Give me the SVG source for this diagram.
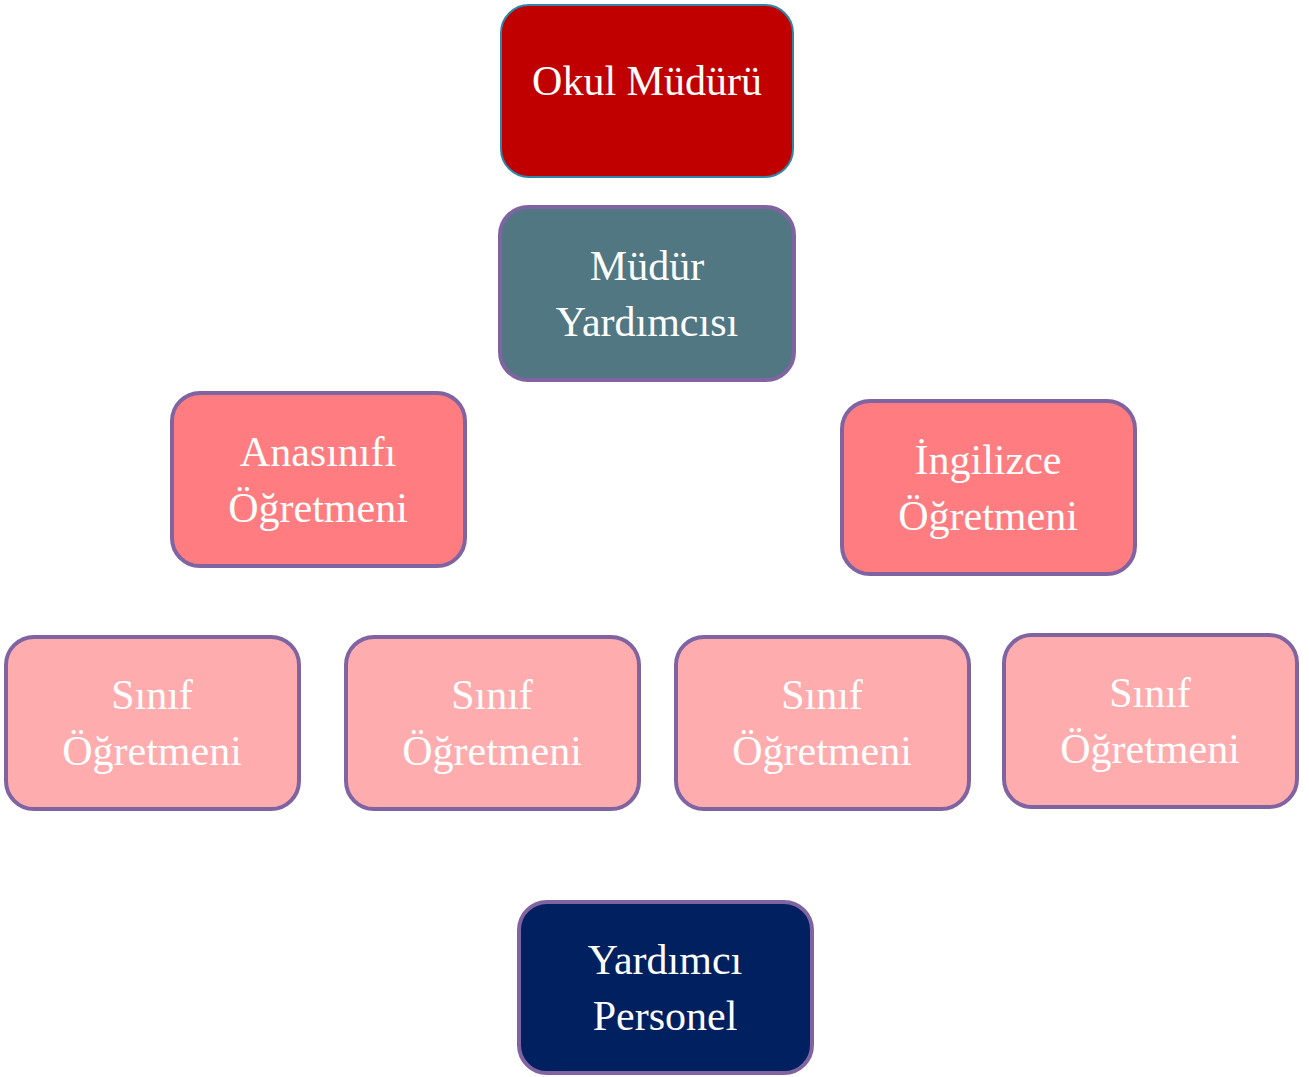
<svg xmlns="http://www.w3.org/2000/svg" width="1309" height="1077" viewBox="0 0 1309 1077">
<style>
.box{stroke:#8064A2;stroke-width:4}
.t{font-family:"Liberation Serif","Times New Roman",serif;font-size:42px;fill:#FFFFFF;text-anchor:middle}
.sinif{fill:#FFACAF}
.ogr{fill:#FF7C80}
</style>
<rect width="1309" height="1077" fill="#FFFFFF"/>
<g id="connectors"></g>
<g id="okul-muduru">
<rect x="501" y="5" width="292" height="172" rx="28" fill="#C00000" stroke="#2E86A8" stroke-width="2"/>
<text class="t" x="647" y="95">Okul Müdürü</text>
</g>
<g id="mudur-yardimcisi">
<rect class="box" x="500" y="207" width="294" height="173" rx="28" fill="#517782"/>
<text class="t" x="647" y="280">Müdür</text>
<text class="t" x="647" y="336">Yardımcısı</text>
</g>
<g id="anasinifi">
<rect class="box ogr" x="172" y="393" width="293" height="173" rx="28"/>
<text class="t" x="318" y="466">Anasınıfı</text>
<text class="t" x="318" y="522">Öğretmeni</text>
</g>
<g id="ingilizce">
<rect class="box ogr" x="842" y="401" width="293" height="173" rx="28"/>
<text class="t" x="988" y="474">İngilizce</text>
<text class="t" x="988" y="530">Öğretmeni</text>
</g>
<g id="sinif-1">
<rect class="box sinif" x="6" y="637" width="293" height="172" rx="28"/>
<text class="t" x="152" y="709">Sınıf</text>
<text class="t" x="152" y="765">Öğretmeni</text>
</g>
<g id="sinif-2">
<rect class="box sinif" x="346" y="637" width="293" height="172" rx="28"/>
<text class="t" x="492" y="709">Sınıf</text>
<text class="t" x="492" y="765">Öğretmeni</text>
</g>
<g id="sinif-3">
<rect class="box sinif" x="676" y="637" width="293" height="172" rx="28"/>
<text class="t" x="822" y="709">Sınıf</text>
<text class="t" x="822" y="765">Öğretmeni</text>
</g>
<g id="sinif-4">
<rect class="box sinif" x="1004" y="635" width="293" height="172" rx="28"/>
<text class="t" x="1150" y="707">Sınıf</text>
<text class="t" x="1150" y="763">Öğretmeni</text>
</g>
<g id="yardimci-personel">
<rect class="box" x="519" y="902" width="293" height="171" rx="28" fill="#002060"/>
<text class="t" x="665" y="974">Yardımcı</text>
<text class="t" x="665" y="1030">Personel</text>
</g>
</svg>
